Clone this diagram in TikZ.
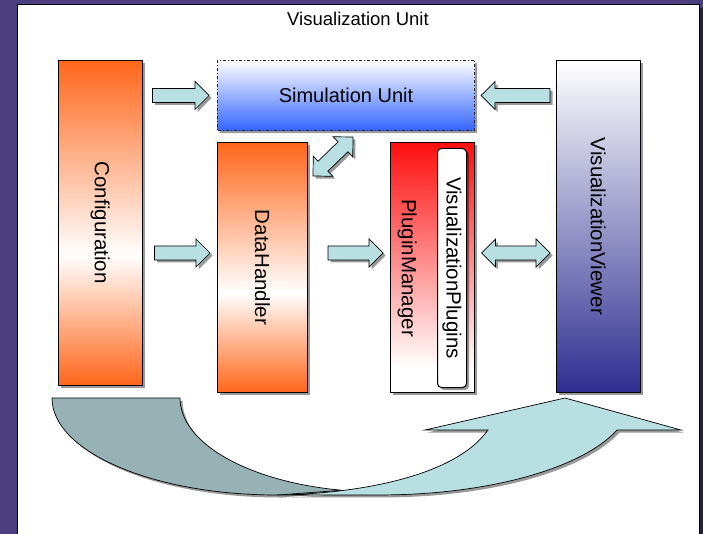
\documentclass[tikz,border=0pt]{standalone}
\usepackage{fontspec}
\setmainfont{Liberation Sans}
\usetikzlibrary{calc,shadows}
\definecolor{bgpurple}{RGB}{76,62,126}
\definecolor{arrowfill}{RGB}{184,223,226}
\definecolor{backband}{RGB}{150,178,181}
\definecolor{orng}{RGB}{255,102,26}
\definecolor{redtop}{RGB}{255,14,14}
\definecolor{simblue}{RGB}{51,100,255}
\definecolor{navy}{RGB}{46,46,146}
\pgfdeclareverticalshading{orangeband}{100bp}{color(0bp)=(orng); color(25bp)=(orng); color(45bp)=(white); color(75bp)=(orng); color(100bp)=(orng)}
\pgfdeclareverticalshading{redfade}{100bp}{color(0bp)=(white); color(30bp)=(white); color(75bp)=(redtop); color(100bp)=(redtop)}
\tikzset{
  shad/.style={drop shadow={shadow xshift=2.5pt, shadow yshift=-2.5pt, opacity=.4, fill=black}},
  unitbox/.style={draw=black, line width=1pt, inner sep=0pt, anchor=north west, shad},
  vlbl/.style={font=\fontsize{20.5}{24}\selectfont, rotate=-90, inner sep=0pt},
  barrow/.style={fill=arrowfill, draw=black, line width=.7pt, line join=miter},
  barrowshadow/.style={fill=black, opacity=.4},
  bandlight/.style={fill=arrowfill, draw=black, line width=.7pt, shad},
  banddark/.style={fill=backband, draw=black, line width=.7pt, shad},
}
\newcommand\ArrowSetup[2]{%
  \path let \p1=(#1), \p2=(#2) in \pgfextra{%
    \pgfmathsetmacro\BAang{atan2(\y2-\y1,\x2-\x1)}%
    \pgfmathsetmacro\BAlen{veclen(\x2-\x1,\y2-\y1)}%
    \xdef\BAangG{\BAang}\xdef\BAlenG{\BAlen}%
    \xdef\BAxG{\x1}\xdef\BAyG{\y1}};%
}
\newcommand\SingleArrow[2]{%
  \ArrowSetup{#1}{#2}%
  \fill[barrowshadow, shift={(2.5pt,-2.5pt)}, shift={(\BAxG,\BAyG)}, rotate=\BAangG]
    (0pt,-7pt) -- ({\BAlenG pt-14pt},-7pt) -- ({\BAlenG pt-14pt},-14pt) -- ({\BAlenG pt},0pt)
    -- ({\BAlenG pt-14pt},14pt) -- ({\BAlenG pt-14pt},7pt) -- (0pt,7pt) -- cycle;
  \draw[barrow, shift={(\BAxG,\BAyG)}, rotate=\BAangG]
    (0pt,-7pt) -- ({\BAlenG pt-14pt},-7pt) -- ({\BAlenG pt-14pt},-14pt) -- ({\BAlenG pt},0pt)
    -- ({\BAlenG pt-14pt},14pt) -- ({\BAlenG pt-14pt},7pt) -- (0pt,7pt) -- cycle;
}
\newcommand\DoubleArrow[2]{%
  \ArrowSetup{#1}{#2}%
  \fill[barrowshadow, shift={(2.5pt,-2.5pt)}, shift={(\BAxG,\BAyG)}, rotate=\BAangG]
    (14pt,-7pt) -- ({\BAlenG pt-14pt},-7pt) -- ({\BAlenG pt-14pt},-14pt) -- ({\BAlenG pt},0pt)
    -- ({\BAlenG pt-14pt},14pt) -- ({\BAlenG pt-14pt},7pt) -- (14pt,7pt) -- (14pt,14pt)
    -- (0pt,0pt) -- (14pt,-14pt) -- cycle;
  \draw[barrow, shift={(\BAxG,\BAyG)}, rotate=\BAangG]
    (14pt,-7pt) -- ({\BAlenG pt-14pt},-7pt) -- ({\BAlenG pt-14pt},-14pt) -- ({\BAlenG pt},0pt)
    -- ({\BAlenG pt-14pt},14pt) -- ({\BAlenG pt-14pt},7pt) -- (14pt,7pt) -- (14pt,14pt)
    -- (0pt,0pt) -- (14pt,-14pt) -- cycle;
}
\begin{document}
\begin{tikzpicture}[x=1pt,y=-1pt]
\useasboundingbox (0,0) rectangle (703,534);
\fill[bgpurple] (0,0) rectangle (703,534);
% panel
\node[draw=black, line width=1.2pt, fill=white, inner sep=0pt, anchor=north west,
      minimum width=682.5pt, minimum height=570pt,
      drop shadow={shadow xshift=3pt, shadow yshift=-3pt, opacity=.5, fill=black}] (panel) at (16.7,4.3) {};
\node[font=\fontsize{18.5}{22}\selectfont] (title) at (358,19) {Visualization Unit};
% boxes
\node[unitbox, shade, shading=orangeband, minimum width=83.5pt, minimum height=324.5pt] (config) at (58,60) {};
\node[vlbl] (configtxt) at (config.center) {Configuration};
\node[unitbox, draw=black!85, dash dot, top color=white, bottom color=simblue,
      minimum width=257pt, minimum height=70pt, font=\fontsize{20}{24}\selectfont] (sim) at (217,60) {Simulation Unit};
\node[unitbox, shade, shading=orangeband, minimum width=90pt, minimum height=250pt] (dh) at (217,142) {};
\node[vlbl] (dhtxt) at (dh.center) {DataHandler};
\node[unitbox, shade, shading=redfade, minimum width=83.5pt, minimum height=250pt] (pm) at (390,142) {};
\node[unitbox, fill=white, rounded corners=4pt, minimum width=29pt, minimum height=239pt] (vp) at (437,148) {};
\node[vlbl] (pmtxt) at ($(pm.center |- vp.center)+(-25,0)$) {PluginManager};
\node[vlbl] (vptxt) at (vp.center) {VisualizationPlugins};
\node[unitbox, top color=white, bottom color=navy, minimum width=83.5pt, minimum height=332pt] (viewer) at (556,60) {};
\node[vlbl] (viewertxt) at (viewer.center) {VisualizationViewer};
% block arrows
\coordinate (arrowrow) at (0,253);
\SingleArrow{$(config.east |- sim.west)+(10,0)$}{$(sim.west)+(-8,0)$}
\SingleArrow{$(viewer.west |- sim.east)+(-6,0)$}{$(sim.east)+(6,0)$}
\SingleArrow{$(config.east |- arrowrow)+(12,0)$}{$(dh.west |- arrowrow)+(-7,0)$}
\SingleArrow{$(dh.east |- arrowrow)+(20,0)$}{$(pm.west |- arrowrow)+(-7,0)$}
\DoubleArrow{$(pm.east |- arrowrow)+(7,0)$}{$(viewer.west |- arrowrow)+(-6,0)$}
\DoubleArrow{$(dh.north east)+(5,34)$}{$(sim.south)+(7,6)$}
% curved arrow
\path[banddark] (52,398) -- (180,398) arc[start angle=180, end angle=101, x radius=200, y radius=94]
   -- (277,495) arc[start angle=90, end angle=180, x radius=225, y radius=97] -- cycle;
\path[bandlight] (277,495) .. controls (350,494) and (453,479) .. (488,430) -- (425,430) -- (565,398)
   -- (681,430) -- (617,430) arc[start angle=19.3, end angle=90, x radius=251, y radius=97] -- cycle;
\end{tikzpicture}
\end{document}
